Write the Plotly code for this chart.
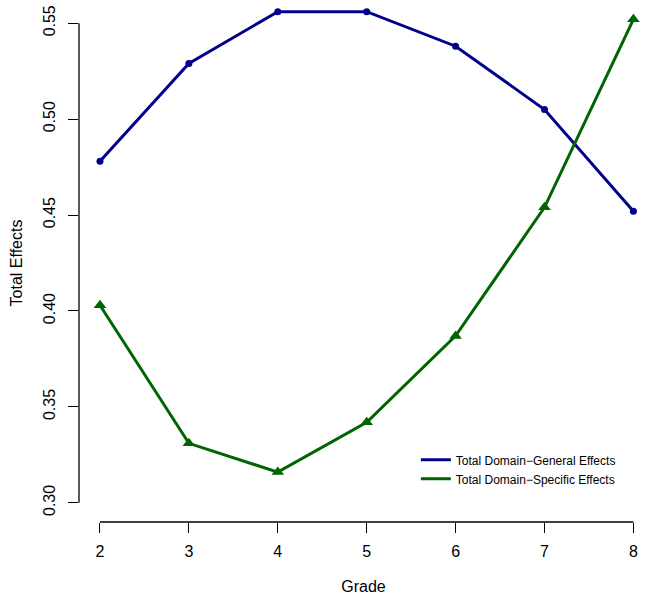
import plotly.graph_objects as go

grades = [2, 3, 4, 5, 6, 7, 8]
general = [0.478, 0.529, 0.556, 0.556, 0.538, 0.505, 0.452]
specific = [0.403, 0.331, 0.316, 0.342, 0.387, 0.454, 0.552]
x_ticks = [2, 3, 4, 5, 6, 7, 8]
y_ticks = [0.30, 0.35, 0.40, 0.45, 0.50, 0.55]
y_tick_labels = ["0.30", "0.35", "0.40", "0.45", "0.50", "0.55"]
names = ["Total Domain\u2212General Effects", "Total Domain\u2212Specific Effects"]

BLUE = "#00008B"
GREEN = "#006400"
FONT = "Liberation Sans, Arial, sans-serif"

fig = go.Figure()
fig.add_trace(go.Scatter(x=grades, y=general, mode="lines+markers",
                         line=dict(color=BLUE, width=3),
                         marker=dict(color=BLUE, size=7, symbol="circle"),
                         showlegend=False))
fig.add_trace(go.Scatter(x=grades, y=specific, mode="lines+markers",
                         line=dict(color=GREEN, width=3),
                         marker=dict(color=GREEN, size=11, symbol="triangle-up"),
                         showlegend=False))
# legend entries (lines only, as in the original)
fig.add_trace(go.Scatter(x=[None], y=[None], mode="lines", name=names[0],
                         line=dict(color=BLUE, width=3)))
fig.add_trace(go.Scatter(x=[None], y=[None], mode="lines", name=names[1],
                         line=dict(color=GREEN, width=3)))

# R-style axis lines spanning only the tick range
fig.add_shape(type="line", xref="x", yref="paper", x0=min(x_ticks), x1=max(x_ticks),
              y0=0, y1=0, line=dict(color="black", width=1.3))
fig.add_shape(type="line", xref="paper", yref="y", x0=0, x1=0,
              y0=min(y_ticks), y1=max(y_ticks), line=dict(color="black", width=1.3))

fig.update_layout(
    width=648, height=601,
    margin=dict(l=79, r=0, t=4, b=79),
    paper_bgcolor="white", plot_bgcolor="white",
    font=dict(family=FONT, size=16, color="black"),
    xaxis=dict(range=[1.764, 8.164], tickvals=x_ticks, ticks="outside", ticklen=10,
               tickwidth=1.3, tickcolor="black", showgrid=False, zeroline=False,
               showline=False, automargin=False, ticklabelstandoff=5,
               title=dict(text="Grade", standoff=21, font=dict(size=16)),
               tickfont=dict(size=16)),
    yaxis=dict(range=[0.29, 0.56], tickvals=y_ticks, ticktext=y_tick_labels,
               ticks="outside", ticklen=10, tickwidth=1.3, tickcolor="black",
               tickangle=-90, showgrid=False, zeroline=False, showline=False,
               automargin=False, ticklabelstandoff=7,
               title=dict(text="Total Effects", standoff=13, font=dict(size=16)),
               tickfont=dict(size=16)),
    legend=dict(x=0.592, y=0.148, xanchor="left", yanchor="top",
                font=dict(size=12, family=FONT), bgcolor="rgba(0,0,0,0)",
                itemwidth=30, tracegroupgap=0),
)

fig.write_html("out.html", config={"displayModeBar": False},
               post_script="document.body.style.margin='0';document.body.style.overflow='hidden';")
